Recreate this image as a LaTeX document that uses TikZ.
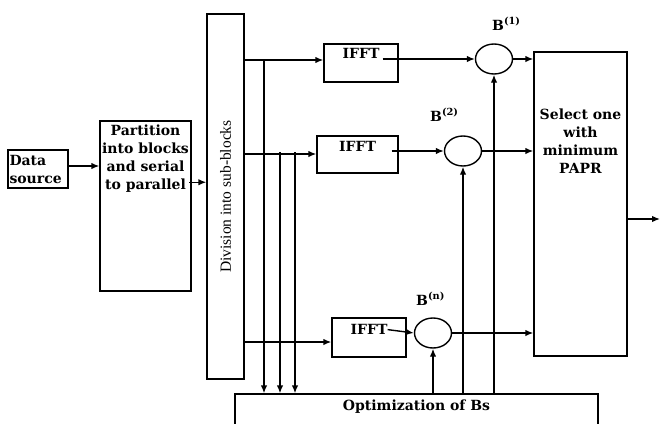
\documentclass[tikz,border=0pt]{standalone}
\usepackage{fontspec}
\setmainfont{DejaVu Serif}
\newfontfamily\divfont{Liberation Serif}
\usepackage{tikz}
\usetikzlibrary{shapes.geometric,arrows.meta,positioning,calc}
\tikzset{
  block/.style={rectangle, draw=black, line width=1.4pt, inner sep=0pt},
  txt/.style={inner sep=0pt, align=center, font=\fontsize{14}{18}\selectfont\bfseries},
  mult/.style={ellipse, draw=black, line width=1.4pt, minimum width=37pt, minimum height=30pt, inner sep=0pt},
  blabel/.style={inner sep=0pt, anchor=base west, font=\fontsize{14}{18}\selectfont\bfseries},
  sig/.style={draw=black, line width=1.4pt, -{Latex[length=8pt,width=6.5pt]}}
}
\newcommand{\bcoef}[1]{B\textsuperscript{(#1)}}

\begin{document}
\begin{tikzpicture}[x=1pt,y=-1pt]
\clip (0,0) rectangle (661,423);
\fill[white] (0,0) rectangle (661,423);

\node[block, txt, text width=57pt, align=left, inner sep=1.5pt, minimum height=38pt] (datasrc) at (38,169) {Data\\source};

\node[block, minimum width=91pt, minimum height=170pt] (partition) at (145.5,206) {};
\node[txt, below=4pt of partition.north] (parttxt) {Partition\\into blocks\\and serial\\to parallel};

\node[block, minimum width=37pt, minimum height=365pt] (division) at (225.5,196.5) {};
\node[inner sep=0pt, rotate=90, font=\fontsize{15.5}{18}\selectfont\divfont] (divtxt) at (division.center) {Division into sub-blocks};

\node[block, minimum width=74pt, minimum height=38pt] (ifft1) at (361,63) {};
\node[txt, below=5pt of ifft1.north] (ifft1t) {IFFT};
\node[block, minimum width=81pt, minimum height=37pt] (ifft2) at (357.5,154.5) {};
\node[txt, below=6pt of ifft2.north] (ifft2t) {IFFT};
\node[block, minimum width=74pt, minimum height=39pt] (ifft3) at (369,337.5) {};
\node[txt, below=7pt of ifft3.north] (ifft3t) {IFFT};

\node[mult] (mul1) at (494,59) {};
\node[mult] (mul2) at (463,151) {};
\node[mult] (mul3) at (433,333) {};
\node[blabel] (b1) at (492,30) {\bcoef{1}};
\node[blabel] (b2) at (430,121) {\bcoef{2}};
\node[blabel] (b3) at (416,305) {\bcoef{n}};

\node[block, minimum width=93pt, minimum height=304pt] (sel) at (580.5,204) {};
\node[txt, below=57pt of sel.north] (seltxt) {Select one\\with\\minimum\\PAPR};

\node[block, minimum width=363pt, minimum height=46pt] (opt) at (416.5,417) {};
\node[txt, below=6pt of opt.north] (opttxt) {Optimization of Bs};

\coordinate (br1) at (244,60);
\coordinate (br2) at (244,154);
\coordinate (br3) at (244,342);
\coordinate (tap1) at (264,60);
\coordinate (tap2) at (280,152);
\coordinate (tap3) at (295,152);
\coordinate (out) at (660,219);

\draw[sig] ([yshift=3pt]datasrc.east) -- ([yshift=3pt]datasrc.east -| partition.west);
\draw[sig] ([yshift=10pt]parttxt.south east) -- ([yshift=10pt]parttxt.south east -| division.west);
\draw[sig] (br1) -- (br1 -| ifft1.west);
\draw[sig] (br2) -- (br2 -| ifft2.west);
\draw[sig] (br3) -- (br3 -| ifft3.west);
\draw[sig] (tap1) -- (tap1 |- opt.north);
\draw[sig] (tap2) -- (tap2 |- opt.north);
\draw[sig] (tap3) -- (tap3 |- opt.north);
\draw[sig] ([xshift=3pt]ifft1t.east |- mul1.west) -- (mul1.west);
\draw[sig] ([xshift=-7pt]ifft2.east |- mul2.west) -- (mul2.west);
\draw[sig] (ifft3t.east) -- (mul3.west);
\draw[sig] (mul1.south |- opt.north) -- (mul1.south);
\draw[sig] (mul2.south |- opt.north) -- (mul2.south);
\draw[sig] (mul3.south |- opt.north) -- (mul3.south);
\draw[sig] (mul1.east) -- (mul1.east -| sel.west);
\draw[sig] (mul2.east) -- (mul2.east -| sel.west);
\draw[sig] (mul3.east) -- (mul3.east -| sel.west);
\draw[sig] (sel.east |- out) -- (out);

\end{tikzpicture}
\end{document}
